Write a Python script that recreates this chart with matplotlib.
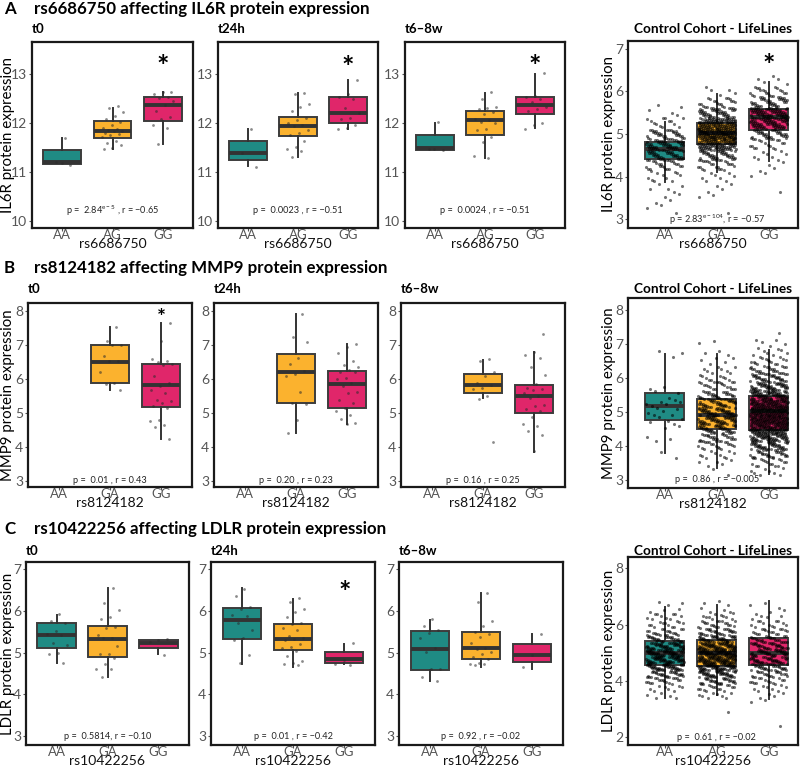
import matplotlib
matplotlib.use("Agg")
import matplotlib.pyplot as plt
import numpy as np

plt.rcParams['font.family'] = ['Lato', 'DejaVu Sans']
plt.rcParams['mathtext.fontset'] = 'custom'
plt.rcParams['mathtext.rm'] = 'Lato'
plt.rcParams['mathtext.it'] = 'Lato'

W, H = 800, 772
TEAL, YELLOW, PINK = '#1f8b84', '#fbb22e', '#e0266a'
COLORS = [TEAL, YELLOW, PINK]

# ---------------- data ----------------
row_titles = ["rs6686750 affecting IL6R protein expression",
              "rs8124182 affecting MMP9 protein expression",
              "rs10422256 affecting LDLR protein expression"]
row_letters = ["A", "B", "C"]
ylabels = ["IL6R protein expression", "MMP9 protein expression", "LDLR protein expression"]
snps = ["rs6686750", "rs8124182", "rs10422256"]
panel_titles = ["t0", "t24h", "t6\u20138w", "Control Cohort - LifeLines"]

xticklabels = [
    [["AA", "AG", "GG"]] * 3 + [["AA", "GA", "GG"]],
    [["AA", "GA", "GG"]] * 4,
    [["AA", "GA", "GG"]] * 3 + [["AA", "AG", "GG"]],
]

# box stats: (whislo, q1, med, q3, whishi) per genotype; None = no box
boxes_A = [
    [(11.15, 11.15, 11.20, 11.44, 11.69), (11.46, 11.69, 11.84, 12.03, 12.31), (11.56, 12.04, 12.37, 12.52, 12.63)],
    [(11.12, 11.24, 11.38, 11.62, 11.87), (11.31, 11.73, 11.93, 12.12, 12.61), (11.87, 11.99, 12.20, 12.53, 12.88)],
    [(11.45, 11.45, 11.49, 11.74, 12.00), (11.29, 11.75, 12.05, 12.25, 12.61), (11.89, 12.18, 12.37, 12.52, 13.00)],
    [(3.88, 4.41, 4.65, 4.82, 5.29), (4.10, 4.76, 5.03, 5.25, 5.94), (4.37, 5.09, 5.39, 5.59, 6.23)],
]
boxes_B = [
    [None, (5.69, 5.89, 6.51, 7.02, 7.53), (4.25, 5.17, 5.83, 6.46, 7.66)],
    [None, (4.40, 5.30, 6.20, 6.75, 7.92), (4.69, 5.16, 5.86, 6.25, 7.04)],
    [None, (5.45, 5.58, 5.82, 6.15, 6.57), (3.85, 5.00, 5.51, 5.83, 6.80)],
    [(3.79, 4.77, 5.17, 5.56, 6.69), (3.35, 4.50, 4.92, 5.38, 6.69), (3.16, 4.48, 5.02, 5.46, 6.83)],
]
boxes_C = [
    [(4.76, 5.10, 5.42, 5.71, 5.90), (4.41, 4.89, 5.32, 5.63, 6.55), (4.96, 5.11, 5.24, 5.31, 5.31)],
    [(4.74, 5.33, 5.78, 6.07, 6.55), (4.66, 5.07, 5.33, 5.68, 6.29), (4.73, 4.76, 4.84, 5.02, 5.21)],
    [(4.33, 4.58, 5.08, 5.51, 5.78), (4.66, 4.85, 5.11, 5.50, 6.43), (4.62, 4.78, 4.95, 5.20, 5.45)],
    [(3.39, 4.57, 4.98, 5.42, 6.64), (3.49, 4.55, 4.98, 5.45, 6.70), (3.37, 4.56, 5.00, 5.52, 6.85)],
]

# individual sample points (small cohorts)
pts_A = [
    [[11.69, 11.20, 11.13, 11.17],
     [12.34, 12.31, 12.22, 12.14, 12.08, 12.02, 11.96, 11.90, 11.87, 11.85, 11.84, 11.83,
      11.80, 11.78, 11.74, 11.70, 11.62, 11.58, 11.55, 11.49, 11.46],
     [12.63, 12.62, 12.58, 12.52, 12.50, 12.45, 12.36, 12.25, 12.12, 12.07, 11.95, 11.90, 11.56]],
    [[11.87, 11.38, 11.10],
     [12.61, 12.58, 12.38, 12.33, 12.25, 12.10, 12.05, 12.00, 11.95, 11.93, 11.85, 11.80,
      11.74, 11.63, 11.50, 11.47, 11.42, 11.31],
     [12.88, 12.58, 12.53, 12.49, 12.30, 12.20, 12.10, 12.07, 11.95, 11.90, 11.88]],
    [[12.01, 11.47, 11.45, 11.46],
     [12.62, 12.49, 12.33, 12.30, 12.28, 12.22, 12.17, 12.08, 12.05, 12.02, 11.99, 11.88,
      11.85, 11.70, 11.60, 11.32, 11.28],
     [13.02, 12.55, 12.52, 12.48, 12.42, 12.33, 12.28, 12.25, 12.00, 11.95, 11.87]],
]
pts_B = [
    [[],
     [7.53, 7.12, 7.02, 7.02, 6.70, 6.55, 6.54, 6.22, 5.89, 5.87, 5.69],
     [7.66, 7.12, 6.61, 6.55, 6.52, 6.45, 6.42, 6.10, 5.88, 5.80, 5.68, 5.60, 5.39, 5.35,
      5.30, 5.22, 5.15, 4.80, 4.78, 4.66, 4.58, 4.25]],
    [[],
     [7.92, 7.26, 7.10, 6.62, 6.45, 6.25, 6.15, 6.10, 5.62, 5.30, 5.28, 4.80, 4.40],
     [7.04, 6.95, 6.78, 6.55, 6.42, 6.35, 6.28, 6.22, 6.20, 6.05, 6.02, 5.88, 5.80, 5.62,
      5.58, 5.40, 5.30, 5.15, 5.05, 4.95, 4.82, 4.72, 4.68]],
    [[],
     [6.59, 6.55, 6.22, 6.10, 5.88, 5.82, 5.75, 5.70, 5.50, 5.42, 4.15],
     [7.34, 6.80, 6.72, 6.62, 6.35, 6.13, 5.85, 5.74, 5.72, 5.68, 5.60, 5.50, 5.45, 5.25,
      5.22, 5.12, 5.05, 4.90, 4.68, 4.62, 4.48, 4.35, 3.87]],
]
pts_C = [
    [[5.92, 5.75, 5.72, 5.52, 5.45, 5.42, 5.22, 5.18, 5.00, 4.97, 4.76],
     [6.55, 6.20, 6.03, 5.85, 5.80, 5.62, 5.60, 5.42, 5.35, 5.35, 5.15, 4.98, 4.98, 4.88,
      4.72, 4.62, 4.62, 4.42],
     [5.32, 5.30, 5.25, 4.95]],
    [[6.53, 6.35, 6.10, 6.05, 5.90, 5.88, 5.70, 5.55, 5.35, 5.30, 4.95, 4.75],
     [6.30, 6.22, 6.05, 5.98, 5.85, 5.72, 5.68, 5.60, 5.55, 5.40, 5.35, 5.33, 5.30, 5.20,
      5.13, 5.10, 5.05, 4.93, 4.80, 4.75, 4.72, 4.70],
     [5.22, 4.82, 4.73, 4.71]],
    [[5.80, 5.65, 5.55, 5.48, 5.35, 5.10, 5.02, 4.62, 4.60, 4.42, 4.33],
     [6.43, 6.22, 5.75, 5.63, 5.50, 5.45, 5.38, 5.22, 5.12, 5.08, 5.02, 4.98, 4.90, 4.85,
      4.76, 4.73, 4.72, 4.70],
     [5.45, 4.95, 4.65]],
]

# LifeLines cohort: binned counts (bin centre -> number of samples), bin width 0.25
ll_A = [
    {3.25: 3, 3.5: 4, 3.75: 5, 4.0: 10, 4.25: 22, 4.5: 45, 4.75: 55, 5.0: 35, 5.25: 12, 5.5: 4, 5.75: 2},
    {3.25: 1, 3.5: 2, 3.75: 4, 4.0: 8, 4.25: 20, 4.5: 45, 4.75: 95, 5.0: 130, 5.25: 100, 5.5: 50,
     5.75: 20, 6.0: 5},
    {3.75: 1, 4.0: 2, 4.25: 4, 4.5: 8, 4.75: 15, 5.0: 40, 5.25: 70, 5.5: 75, 5.75: 40, 6.0: 20, 6.25: 5},
]
ll_B = [
    {3.75: 2, 4.25: 3, 4.5: 2, 4.75: 5, 5.0: 6, 5.25: 6, 5.5: 3, 5.75: 2, 6.5: 1, 6.75: 2},
    {3.25: 2, 3.5: 5, 3.75: 10, 4.0: 18, 4.25: 28, 4.5: 42, 4.75: 52, 5.0: 50, 5.25: 40, 5.5: 30,
     5.75: 18, 6.0: 12, 6.25: 8, 6.5: 5, 6.75: 3, 7.0: 2},
    {3.25: 8, 3.5: 15, 3.75: 30, 4.0: 50, 4.25: 75, 4.5: 95, 4.75: 110, 5.0: 110, 5.25: 95, 5.5: 75,
     5.75: 55, 6.0: 38, 6.25: 25, 6.5: 15, 6.75: 8, 7.0: 4, 7.25: 2},
]
ll_C = [
    {3.5: 5, 3.75: 8, 4.0: 18, 4.25: 30, 4.5: 50, 4.75: 60, 5.0: 60, 5.25: 48, 5.5: 30, 5.75: 18,
     6.0: 12, 6.25: 8, 6.5: 5, 6.75: 3},
    {3.0: 1, 3.5: 8, 3.75: 15, 4.0: 30, 4.25: 48, 4.5: 70, 4.75: 85, 5.0: 85, 5.25: 70, 5.5: 45,
     5.75: 28, 6.0: 18, 6.25: 10, 6.5: 6, 6.75: 3},
    {2.5: 1, 3.25: 2, 3.5: 4, 3.75: 8, 4.0: 14, 4.25: 22, 4.5: 32, 4.75: 40, 5.0: 40, 5.25: 32,
     5.5: 24, 5.75: 16, 6.0: 10, 6.25: 6, 6.5: 4, 6.75: 2},
]

stats_text = [
    ["p =  2.84$^{e\u22125}$ , r = \u22120.65", "p =  0.0023 , r = \u22120.51",
     "p =  0.0024 , r = \u22120.51", "p = 2.83$^{e\u2212104}$, r = \u22120.57"],
    ["p =  0.01 , r = 0.43", "p =  0.20 , r = 0.23", "p =  0.16 , r = 0.25", "p =  0.86 , r = \u22120.005"],
    ["p =  0.5814, r = \u22120.10", "p =  0.01 , r = \u22120.42", "p =  0.92 , r = \u22120.02",
     "p =  0.61 , r = \u22120.02"],
]

# significance stars: (panel index, genotype index, y value)
stars_A = [(0, 2, 13.27), (1, 2, 13.25), (2, 2, 13.27), (3, 2, 6.75)]
stars_B = [(0, 2, 7.95)]
stars_C = [(1, 2, 6.58)]

# ---------------- layout (pixels) ----------------
rows = [
    dict(boxes=boxes_A, pts=pts_A, ll=ll_A, stars=stars_A, star_size=21,
         small_ylim=(9.85, 13.65), small_yticks=[10, 11, 12, 13], small_text_y=10.2,
         ll_ylim=(2.80, 7.18), ll_yticks=[3, 4, 5, 6, 7], ll_text_y=3.0,
         small_pos=[(32, 193), (218, 378), (405, 565)], small_tb=(42, 228),
         ll_pos=(628, 798), ll_tb=(41, 228), title_y=9, sub_y=29),
    dict(boxes=boxes_B, pts=pts_B, ll=ll_B, stars=stars_B, star_size=15,
         small_ylim=(2.82, 8.25), small_yticks=[3, 4, 5, 6, 7, 8], small_text_y=3.0,
         ll_ylim=(2.76, 8.35), ll_yticks=[3, 4, 5, 6, 7, 8], ll_text_y=3.0,
         small_pos=[(28, 192), (214, 378), (401, 565)], small_tb=(303, 487),
         ll_pos=(628, 798), ll_tb=(298, 488), title_y=268, sub_y=289),
    dict(boxes=boxes_C, pts=pts_C, ll=ll_C, stars=stars_C, star_size=21,
         small_ylim=(2.79, 7.17), small_yticks=[3, 4, 5, 6, 7], small_text_y=3.0,
         ll_ylim=(1.73, 8.40), ll_yticks=[2, 4, 6, 8], ll_text_y=2.0,
         small_pos=[(26, 189), (211, 375), (399, 563)], small_tb=(562, 745),
         ll_pos=(628, 798), ll_tb=(557, 745), title_y=529, sub_y=551),
]

fig = plt.figure(figsize=(W / 100, H / 100), dpi=100)
GOLD = 0.6180339887
PLAST = 0.7548776662


def add_ax(l, r, t, b):
    return fig.add_axes([l / W, 1 - b / H, (r - l) / W, (b - t) / H])


def style_ax(ax, ylim, yticks, labels, xlabel):
    ax.set_xlim(0.4, 3.6)
    ax.set_ylim(*ylim)
    ax.set_yticks(yticks)
    ax.set_xticks([1, 2, 3])
    ax.set_xticklabels(labels)
    for s in ax.spines.values():
        s.set_linewidth(1.6)
        s.set_color('#1a1a1a')
    ax.tick_params(axis='both', length=2.5, width=0.8, color='#555555', labelcolor='#555555',
                   labelsize=10, pad=1)
    ax.tick_params(axis='x', pad=-1.5, labelsize=9.5)
    ax.set_xlabel(xlabel, fontsize=10, color='#111111', labelpad=-2.4)


def draw_boxes(ax, boxlist, width):
    stats, pos, cols = [], [], []
    for i, b in enumerate(boxlist):
        if b is None:
            continue
        lo, q1, med, q3, hi = b
        stats.append(dict(whislo=lo, q1=q1, med=med, q3=q3, whishi=hi, fliers=[]))
        pos.append(i + 1)
        cols.append(COLORS[i])
    bp = ax.bxp(stats, positions=pos, widths=width, patch_artist=True, showcaps=False,
                showfliers=False,
                boxprops=dict(edgecolor='#3c3c3c', linewidth=1.4),
                medianprops=dict(color='#333333', linewidth=2.8, solid_capstyle='butt'),
                whiskerprops=dict(color='#333333', linewidth=1.4))
    for patch, c in zip(bp['boxes'], cols):
        patch.set_facecolor(c)
    return bp


def add_star(ax, x, y, size, ylim, height_px):
    # shift so that the glyph (which sits high in the text line) is centred on y
    shift = 0.30 * size * (ylim[1] - ylim[0]) / height_px
    ax.text(x, y - shift, '*', fontsize=size, fontweight='bold', ha='center',
            va='center', zorder=7)


for r, row in enumerate(rows):
    # row header
    fig.text(4 / W, 1 - row['title_y'] / H, row_letters[r], fontsize=12.2, fontweight='bold',
             va='center', ha='left')
    fig.text(34 / W, 1 - row['title_y'] / H, row_titles[r], fontsize=12.2, fontweight='bold',
             va='center', ha='left')
    t, b = row['small_tb']
    fig.text(8 / W, 1 - ((t + b) / 2) / H, ylabels[r], fontsize=10.8, rotation=90,
             ha='center', va='center')
    # small panels
    for p in range(3):
        l, rr = row['small_pos'][p]
        ax = add_ax(l, rr, t, b)
        draw_boxes(ax, row['boxes'][p], 0.75)
        for g, vals in enumerate(row['pts'][p]):
            n = len(vals)
            xs = [g + 1 + (((k + 1) * GOLD + 0.13 * g) % 1 - 0.5) * 0.45 for k in range(n)]
            ax.scatter(xs, vals, s=4, color='#2b2b2b', alpha=0.55, linewidths=0, zorder=5)
        style_ax(ax, row['small_ylim'], row['small_yticks'], xticklabels[r][p], snps[r])
        ax.text(2, row['small_text_y'], stats_text[r][p], fontsize=6.6, ha='center',
                va='center', color='#222222', zorder=6)
        fig.text(l / W, 1 - row['sub_y'] / H, panel_titles[p], fontsize=9.5,
                 fontweight='bold', va='center', ha='left')
        for (pi, gi, yv) in row['stars']:
            if pi == p:
                add_star(ax, gi + 1, yv, row['star_size'], row['small_ylim'], b - t)
    # LifeLines panel
    l, rr = row['ll_pos']
    lt, lb = row['ll_tb']
    ax = add_ax(l, rr, lt, lb)
    draw_boxes(ax, row['boxes'][3], 0.75)
    for g, bins in enumerate(row['ll']):
        xs, ys = [], []
        idx = 0
        for centre, cnt in bins.items():
            for k in range(cnt):
                idx += 1
                ys.append(centre + ((idx * PLAST + 0.31) % 1 - 0.5) * 0.25)
                xs.append(g + 1 + ((idx * GOLD + 0.17) % 1 - 0.5) * 0.72)
        ax.scatter(xs, ys, s=5, color='#000000', alpha=0.55, linewidths=0, zorder=5)
    style_ax(ax, row['ll_ylim'], row['ll_yticks'], xticklabels[r][3], snps[r])
    ax.set_xlim(0.29, 3.56)
    ax.text(2, row['ll_text_y'], stats_text[r][3], fontsize=6.6, ha='center', va='center',
            color='#222222', zorder=6)
    fig.text(609 / W, 1 - ((lt + lb) / 2) / H, ylabels[r], fontsize=10.8, rotation=90,
             ha='center', va='center')
    fig.text((l + 6) / W, 1 - row['sub_y'] / H, panel_titles[3], fontsize=9.8,
             fontweight='bold', va='center', ha='left')
    for (pi, gi, yv) in row['stars']:
        if pi == 3:
            add_star(ax, gi + 1, yv, row['star_size'], row['ll_ylim'], lb - lt)

fig.savefig('out.png', dpi=100)
